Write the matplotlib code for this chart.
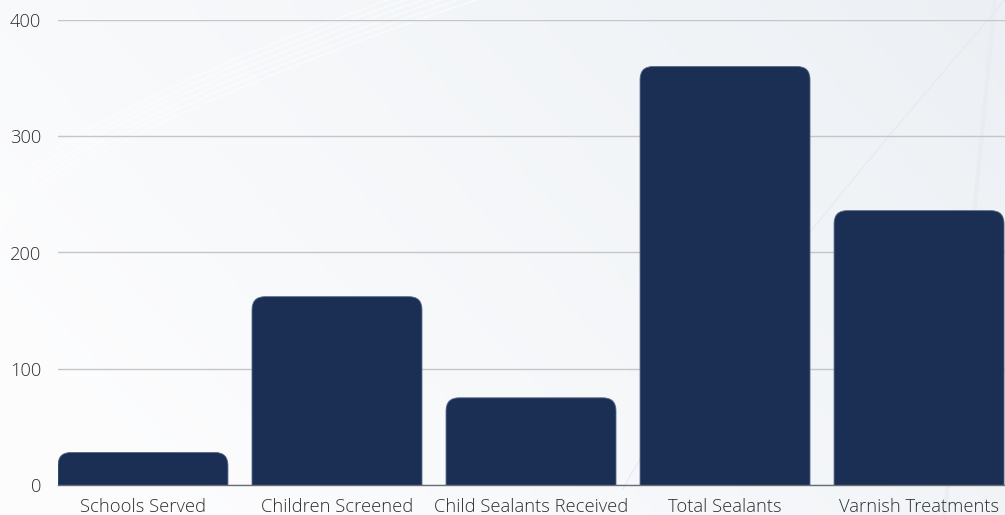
import numpy as np
import matplotlib
matplotlib.use("Agg")
import matplotlib.pyplot as plt
from matplotlib.patches import FancyBboxPatch

# ---- data ----
categories = ["Schools Served", "Children Screened", "Child Sealants Received",
              "Total Sealants", "Varnish Treatments"]
values = [28, 162, 75, 360, 236]
yticks = [0, 100, 200, 300, 400]

bar_color = "#1b2f54"
plt.rcParams["font.family"] = ["Open Sans", "DejaVu Sans"]

W, H = 1005, 515
fig = plt.figure(figsize=(W / 100, H / 100), dpi=100)

# ---- background gradient ----
bg = fig.add_axes([0, 0, 1, 1], zorder=-10)
xx, yy = np.meshgrid(np.linspace(0, 1, 300), np.linspace(0, 1, 160))
t = np.clip(0.75 * xx + 0.35 * (1 - yy) - 0.1, 0, 1)
c0 = np.array([0.992, 0.992, 0.996])
c1 = np.array([0.925, 0.942, 0.958])
img = c0 + (c1 - c0) * t[..., None]
bg.imshow(img, extent=[0, 1, 0, 1], aspect="auto", origin="upper")
# faint swooshes
s = np.linspace(0, 1, 200)
for k in range(6):
    bg.plot(0.0 + s * 0.55, 0.55 + 0.5 * s ** 0.7 + k * 0.012, color="white", lw=1.2, alpha=0.5)
bg.plot(0.62 + 0.38 * s, 0.05 + 0.95 * s ** 0.9, color="#e3e8ee", lw=0.8, alpha=0.8)
bg.plot(0.99 - 0.05 * s, 1.0 - s, color="#e6ebf0", lw=3, alpha=0.6)
bg.set_xlim(0, 1)
bg.set_ylim(0, 1)
bg.axis("off")

# ---- main axes ----
ax = fig.add_axes([58 / W, 30 / H, (W - 58) / W, 465 / H])
ax.patch.set_alpha(0)
x = np.arange(len(categories))
ax.set_xlim(-0.438, len(categories) - 1 + 0.443)
ax.set_ylim(0, 400)

fig.canvas.draw()
p2d = ax.transData.transform
dx = p2d((1, 0))[0] - p2d((0, 0))[0]
dy = p2d((0, 1))[1] - p2d((0, 0))[1]
aspect = dx / dy  # y units per x unit in equal pixels
radius_px = 13
r = radius_px / dx
bw = 0.876

for xi, v in zip(x, values):
    p = FancyBboxPatch((xi - bw / 2, -30), bw, v + 30,
                       boxstyle=f"round,pad=0,rounding_size={r}",
                       mutation_aspect=aspect,
                       facecolor=bar_color, edgecolor="#56688a", linewidth=0.6,
                       zorder=3, clip_on=True)
    ax.add_patch(p)

ax.set_yticks(yticks)
ax.set_xticks(x)
ax.set_xticklabels(categories)
ax.grid(axis="y", color="#c4c6c9", linewidth=1, zorder=1)
ax.set_axisbelow(True)
for sp in ["top", "right", "left"]:
    ax.spines[sp].set_visible(False)
ax.spines["bottom"].set_color("#6b6f75")
ax.spines["bottom"].set_linewidth(1)
ax.spines["bottom"].set_zorder(5)
ax.tick_params(axis="both", length=0, labelsize=13.2, labelcolor="#2e2e2e")
ax.tick_params(axis="y", pad=12)
ax.tick_params(axis="x", pad=9)
for lbl in ax.get_xticklabels() + ax.get_yticklabels():
    lbl.set_fontweight("light")

fig.savefig("out.png", dpi=100)
